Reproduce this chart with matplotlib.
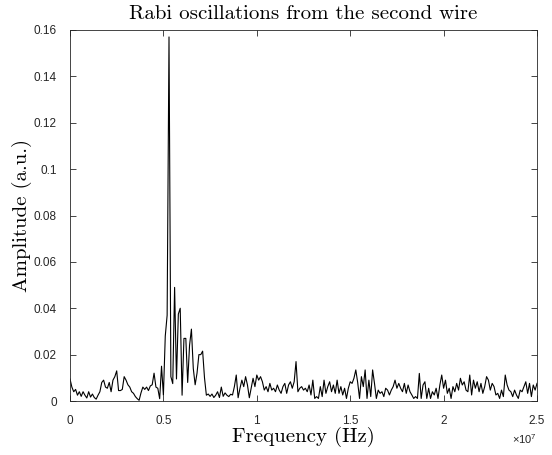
import matplotlib
matplotlib.use('Agg')
import matplotlib.pyplot as plt
from matplotlib.ticker import FuncFormatter
import numpy as np

# ======================
# DATA
# ======================

# frequency axis: 0 .. 2.5e7 Hz, 1e5 Hz step
freq_step = 1e5
n_points = 251

# amplitude values, in units of 1e-3 (a.u.)
amp_low = [9.5, 6, 4, 5, 2.5, 4, 2, 4, 2.5, 1.3,
           4, 1.7, 3, 1.5, 0.8, 2.5, 4, 8, 9, 6,
           5.5, 8, 4, 9, 10.5, 13, 4.5, 4.5, 5, 10.5,
           9, 7, 6, 4, 3.3, 1.9, 1, 0.3, 3.5, 6]
amp_peak = [5, 6, 4.5, 6.5, 7, 12, 6, 5.5, 1, 15,
            2.5, 28, 37, 157, 10.5, 7.5, 49, 9.5, 37.5, 40,
            2.5, 27, 27, 8, 24, 31, 14, 7, 12, 20,
            20, 21.5, 10, 2.5, 3, 2, 3, 1.5, 2.5, 4,
            1.5, 6, 2, 3.5, 2.5]
amp_mid = [1.9, 2.9, 2.6, 6.2, 11.2, 1.4, 5.5, 9.0, 6.2, 10.5,
           6.9, 1.4, 5.5, 9.8, 6.2, 11.2, 9.0, 10.5, 8.3, 4.7,
           6.2, 4.0, 7.6, 4.7, 5.5, 4.0, 6.9, 4.7, 3.3, 6.2,
           7.6, 3.3, 6.9, 8.3, 5.5, 8.3, 17.0, 4.0, 5.5, 6.2,
           4.7, 5.5, 4.0, 6.9, 2.6, 9.0, 1.1, 1.9, 1.1, 6.2,
           1.9, 9.0]
amp_high = [3.3, 6.2, 8.3, 4.0, 6.9, 3.3, 9.0, 3.3, 6.2, 2.6,
            5.5, 1.1, 5.5, 8.3, 7.6, 9.8, 13.4, 8.0, 1.1, 10.5,
            6.2, 13.4, 1.1, 9.0, 1.9, 13.4, 7.6, 1.1, 4.7, 3.3,
            4.0, 1.9, 5.5, 4.7, 2.6, 4.7, 6.2, 9.0, 5.5, 7.6,
            5.5, 4.0, 7.6, 3.3, 6.9, 4.0, 2.6, 1.1, 1.9, 1.1,
            11.9, 1.1, 6.9, 8.3, 1.1, 5.5]
amp_tail = [1.1, 4.0, 2.6, 5.5, 1.1, 6.9, 11.2, 5.5, 9.0, 3.3,
            5.5, 1.1, 6.2, 4.0, 7.6, 4.7, 9.8, 6.9, 8.3, 4.7,
            4.0, 11.2, 2.6, 9.0, 5.5, 8.3, 4.0, 7.6, 3.3, 6.2,
            10.5, 9.0, 4.7, 7.6, 6.2, 2.6, 3.3, 1.1, 4.7, 1.9,
            11.2, 6.9, 4.7, 4.0, 1.9, 4.7, 2.6, 1.1, 4.7, 4.0,
            6.2, 8.3, 3.3, 7.6, 1.9, 6.9, 4.7, 7.6]

title_text = 'Rabi oscillations from the second wire'
x_label = 'Frequency (Hz)'
y_label = 'Amplitude (a.u.)'
x_ticks = [0, 0.5e7, 1e7, 1.5e7, 2e7, 2.5e7]
y_ticks = [0, 0.02, 0.04, 0.06, 0.08, 0.1, 0.12, 0.14, 0.16]

# ======================
# PLOT
# ======================

plt.rcParams['font.family'] = ['Liberation Sans', 'DejaVu Sans']
plt.rcParams['mathtext.fontset'] = 'custom'
plt.rcParams['mathtext.rm'] = 'Liberation Sans'
axis_color = '#262626'

freq = np.arange(n_points) * freq_step
amplitude = np.array(amp_low + amp_peak + amp_mid + amp_high + amp_tail) * 1e-3

fig = plt.figure(figsize=(5.52, 4.55), dpi=100)
ax = fig.add_axes([70 / 552, 54 / 455, 467 / 552, 371 / 455])

ax.plot(freq, amplitude, color='black', linewidth=0.8, antialiased=True)

ax.set_xlim(0, 2.5e7)
ax.set_ylim(0, 0.16)
ax.set_xticks(x_ticks)
ax.set_yticks(y_ticks)
ax.xaxis.set_major_formatter(FuncFormatter(lambda v, p: f'{v / 1e7:g}'))
ax.yaxis.set_major_formatter(FuncFormatter(lambda v, p: f'{v:g}'))
ax.tick_params(direction='in', length=4.5, width=0.6, colors=axis_color,
               labelsize=8.5, top=True, right=True)
ax.tick_params(axis='x', pad=10)
ax.tick_params(axis='y', pad=9.5)
for spine in ax.spines.values():
    spine.set_color(axis_color)
    spine.set_linewidth(0.6)

serif = 'cmr10'
ax.set_title(title_text, fontfamily=serif, fontsize=15, pad=8)
ax.set_xlabel(x_label, fontfamily=serif, fontsize=15, labelpad=0)
ax.set_ylabel(y_label, fontfamily=serif, fontsize=15, labelpad=1)
ax.text(1.0, -0.085, r'$\times\mathregular{10^{7}}$', transform=ax.transAxes,
        ha='right', va='top', fontsize=8, color=axis_color)

plt.savefig('out.png', dpi=100)
